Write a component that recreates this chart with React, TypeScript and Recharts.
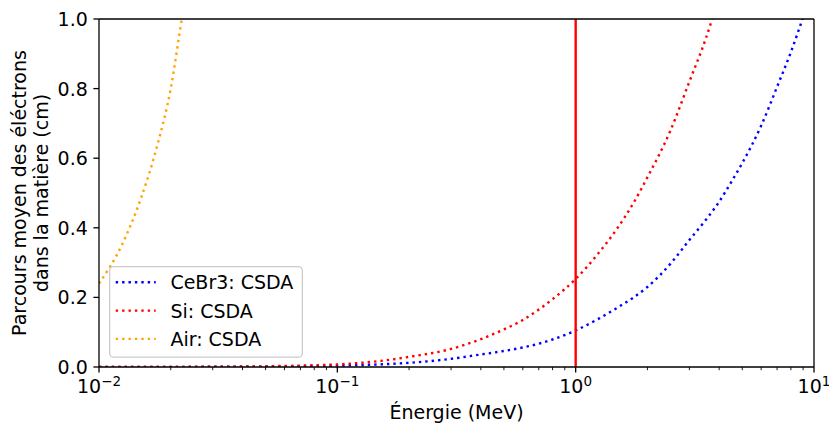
import { LineChart, Line, XAxis, YAxis, Legend, ReferenceLine, Label } from "recharts";

// ─── Couleurs / police ──────────────────────────────────────────────────────
const FONT = "DejaVu Sans";
const C_BLUE = "#0000ff";
const C_RED = "#ff0000";
const C_ORANGE = "#ffa500";

// ─── Parcours CSDA (cm) en fonction de l'énergie (MeV) ──────────────────────
const ENERGIE_CEBR3 = [0.01, 0.02, 0.03, 0.05, 0.07, 0.1, 0.15, 0.2, 0.3, 0.4, 0.5, 0.6, 0.7, 0.8, 1, 1.25, 1.5, 1.75, 2, 2.5, 3, 3.5, 4, 4.5, 5, 6, 7, 8, 9, 10];
const PARCOURS_CEBR3 = [0.0001, 0.0003, 0.0006, 0.0013, 0.0023, 0.004, 0.0075, 0.012, 0.0235, 0.036, 0.046, 0.056, 0.067, 0.079, 0.105, 0.139, 0.171, 0.2, 0.23, 0.297, 0.365, 0.421, 0.475, 0.532, 0.586, 0.693, 0.805, 0.905, 1.005, 1.1];

const ENERGIE_SI = [0.01, 0.02, 0.03, 0.05, 0.07, 0.1, 0.15, 0.2, 0.3, 0.4, 0.5, 0.6, 0.7, 0.8, 1, 1.25, 1.5, 1.75, 2, 2.5, 3, 3.5, 4];
const PARCOURS_SI = [0.0001, 0.0004, 0.0008, 0.0021, 0.004, 0.0075, 0.017, 0.029, 0.052, 0.08, 0.108, 0.135, 0.165, 0.195, 0.253, 0.328, 0.4, 0.472, 0.545, 0.68, 0.82, 0.94, 1.065];

const ENERGIE_AIR = [0.01, 0.0125, 0.015, 0.0175, 0.02, 0.0225, 0.025];
const PARCOURS_AIR = [0.24, 0.352, 0.485, 0.633, 0.8, 1.02, 1.19];

const X_TICKS = [0.01, 0.02, 0.03, 0.04, 0.05, 0.06, 0.07, 0.08, 0.09, 0.1, 0.2, 0.3, 0.4, 0.5, 0.6, 0.7, 0.8, 0.9, 1, 2, 3, 4, 5, 6, 7, 8, 9, 10];
const Y_TICKS = [0, 0.2, 0.4, 0.6, 0.8, 1.0];

const zip = (xs: number[], ys: number[]) => xs.map((e, i) => ({ e, r: ys[i] }));

const SERIES = [
  { name: "CeBr3: CSDA", color: C_BLUE, data: zip(ENERGIE_CEBR3, PARCOURS_CEBR3) },
  { name: "Si: CSDA", color: C_RED, data: zip(ENERGIE_SI, PARCOURS_SI) },
  { name: "Air: CSDA", color: C_ORANGE, data: zip(ENERGIE_AIR, PARCOURS_AIR) },
];

const DOT = "2.4 4";

// graduations log : majeures (10^n) avec étiquette, mineures sans
function LogTick({ x, y, payload }: any) {
  const v = payload.value as number;
  const lg = Math.log10(v);
  const exp = Math.round(lg);
  const major = Math.abs(lg - exp) < 1e-6;
  return (
    <g>
      <line x1={x} x2={x} y1={y} y2={y + (major ? 5.6 : 3.2)} stroke="#000" strokeWidth={major ? 1.3 : 0.9} />
      {major && (
        <text x={x} y={y + 25.7} textAnchor="middle" fontSize={19} fontFamily={FONT} fill="#000">
          <tspan>10</tspan>
          <tspan dy={-7} fontSize={13.5}>{exp < 0 ? `\u2212${-exp}` : `${exp}`}</tspan>
        </text>
      )}
    </g>
  );
}

function YTick({ x, y, payload }: any) {
  return (
    <g>
      <line x1={x - 5.6} x2={x} y1={y} y2={y} stroke="#000" strokeWidth={1.3} />
      <text x={x - 11.2} y={y + 7} textAnchor="end" fontSize={19} fontFamily={FONT} fill="#000">
        {Number(payload.value).toFixed(1)}
      </text>
    </g>
  );
}

function XLabel({ viewBox }: any) {
  const { x, y, width } = viewBox;
  return (
    <text x={x + width / 2} y={y + 52} textAnchor="middle" fontSize={19} fontFamily={FONT} fill="#000">
      Énergie (MeV)
    </text>
  );
}

function YLabel({ viewBox }: any) {
  const { y, height } = viewBox;
  const cy = y + height / 2;
  return (
    <text transform="rotate(-90)" textAnchor="middle" fontSize={19} fontFamily={FONT} fill="#000">
      <tspan x={-cy} y={25.5}>Parcours moyen des éléctrons</tspan>
      <tspan x={-cy} y={48}>dans la matière (cm)</tspan>
    </text>
  );
}

// légende dans l'ordre de tracé des séries
function CsdaLegend() {
  return (
    <svg width={194} height={92} style={{ display: "block" }}>
      <rect x={0.65} y={0.65} width={192.7} height={90.5} rx={4} fill="#fff" fillOpacity={0.8} stroke="#cccccc" strokeWidth={1.3} />
      {SERIES.map((s, i) => (
        <g key={s.name}>
          <line x1={6.7} x2={46.7} y1={16.3 + i * 28.3} y2={16.3 + i * 28.3} stroke={s.color} strokeWidth={2.4} strokeDasharray={DOT} />
          <text x={61.4} y={23.3 + i * 28.3} fontSize={19} fontFamily={FONT} fill="#000">
            {s.name}
          </text>
        </g>
      ))}
    </svg>
  );
}

export default function App() {
  return (
    <div style={{ position: "absolute", left: 0, top: 0, width: 829, height: 425, background: "#fff" }}>
      <LineChart width={829} height={425} margin={{ top: 19, right: 15, bottom: 0, left: 0 }}>
        <XAxis
          dataKey="e"
          type="number"
          scale="log"
          domain={[0.01, 10]}
          allowDataOverflow
          ticks={X_TICKS}
          interval={0}
          height={58}
          tickSize={0}
          tickMargin={0}
          tickLine={false}
          tick={<LogTick />}
          axisLine={{ stroke: "#000", strokeWidth: 1.3 }}
        >
          <Label content={<XLabel />} />
        </XAxis>
        <YAxis
          type="number"
          domain={[0, 1]}
          allowDataOverflow
          ticks={Y_TICKS}
          interval={0}
          width={99}
          tickSize={0}
          tickMargin={0}
          tickLine={false}
          tick={<YTick />}
          axisLine={{ stroke: "#000", strokeWidth: 1.3 }}
        >
          <Label content={<YLabel />} />
        </YAxis>
        {SERIES.map((s) => (
          <Line
            key={s.name}
            data={s.data}
            dataKey="r"
            name={s.name}
            type="monotone"
            stroke={s.color}
            strokeWidth={2.4}
            strokeDasharray={DOT}
            dot={false}
            activeDot={false}
            isAnimationActive={false}
          />
        ))}
        <ReferenceLine x={1} stroke={C_RED} strokeWidth={2.4} />
        {/* cadre haut et droit */}
        <ReferenceLine y={1} stroke="#000" strokeWidth={1.3} />
        <ReferenceLine x={10} stroke="#000" strokeWidth={1.3} />
        <Legend
          layout="vertical"
          align="center"
          verticalAlign="middle"
          width={194}
          height={92}
          wrapperStyle={{ left: 109, top: 266, width: 194, height: 92 }}
          content={<CsdaLegend />}
        />
      </LineChart>
    </div>
  );
}
